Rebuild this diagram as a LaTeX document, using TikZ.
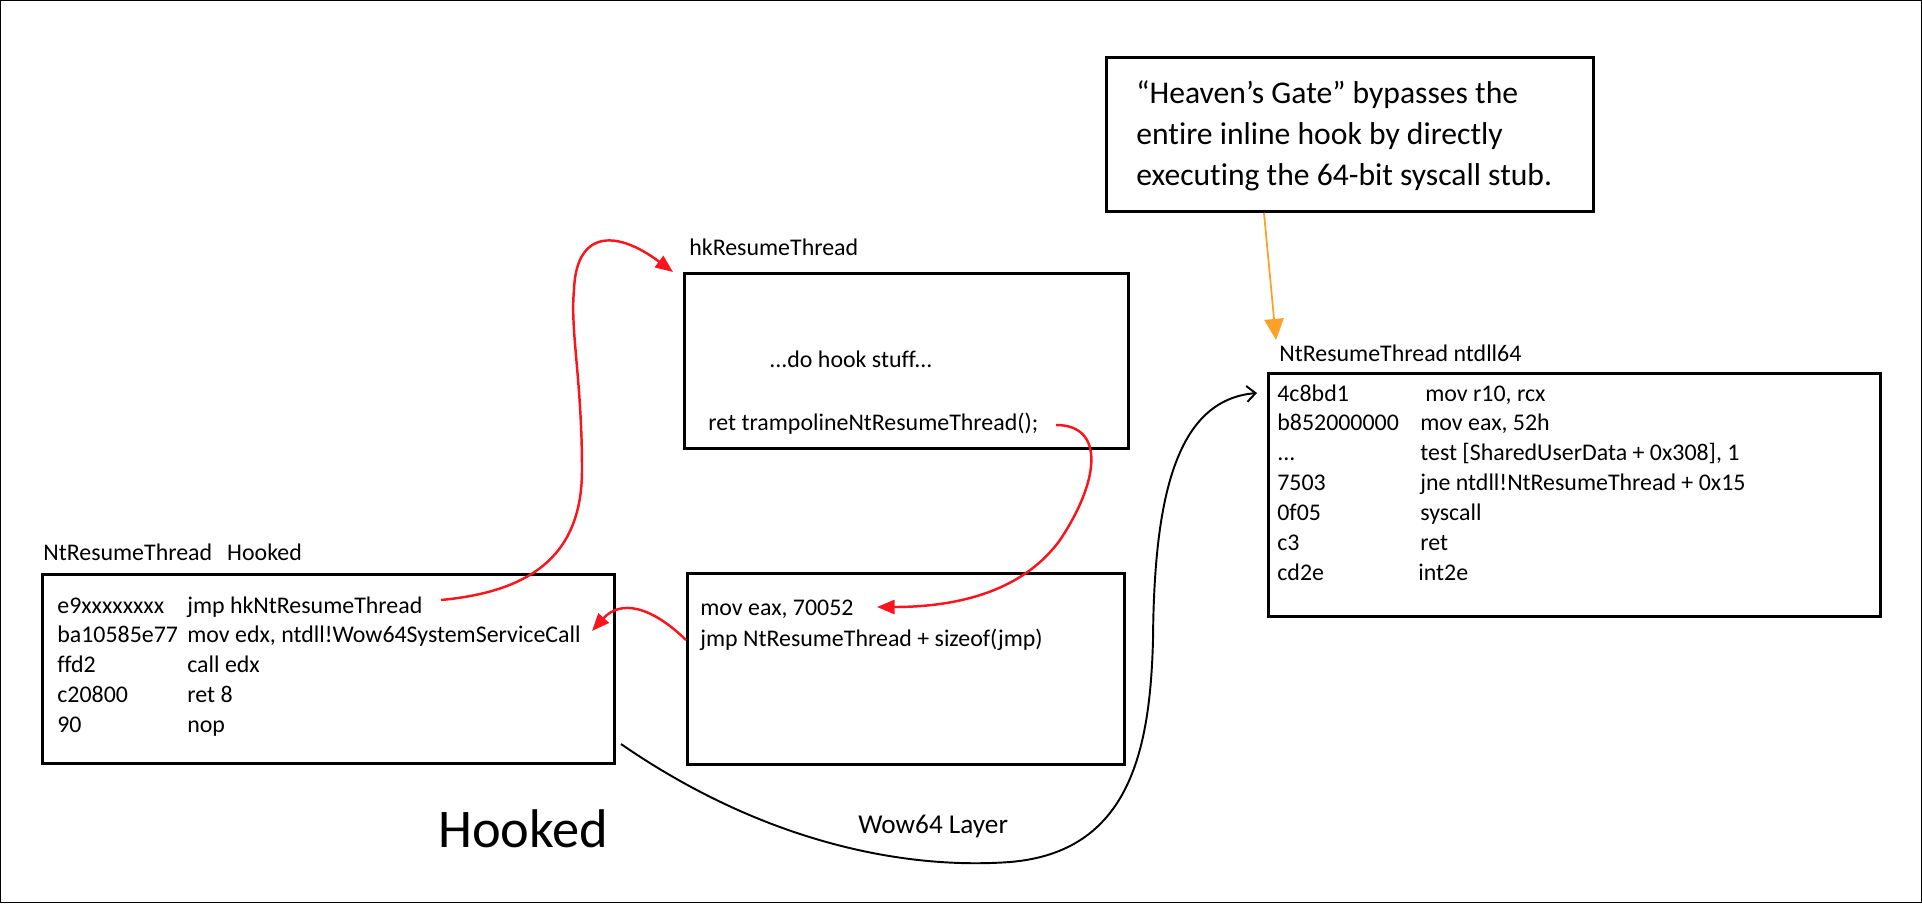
\documentclass[tikz,border=0pt]{standalone}
\usepackage{fontspec}
\setmainfont{Carlito}[Ligatures=NoCommon]
\usetikzlibrary{arrows.meta}
\definecolor{hookred}{RGB}{250,20,30}
\definecolor{gateorange}{RGB}{255,160,40}
\newcommand{\codesize}{\fontsize{13.6}{17}\selectfont}
\newcommand{\gatesize}{\fontsize{18}{23.6}\selectfont}
\newcommand{\bigsize}{\fontsize{31}{36}\selectfont}
\newcommand{\wowsize}{\fontsize{15.5}{18}\selectfont}

\begin{document}
\begin{tikzpicture}[x=0.02cm, y=-0.02cm,
    box/.style={draw, line width=1.6pt, anchor=north west, inner sep=0},
    txt/.style={anchor=base west, inner sep=0, font=\codesize},
    redarrow/.style={draw=hookred, line width=1.4pt, -{Triangle[length=10pt,width=8pt]}},
    wow/.style={line width=1.1pt, -{Straight Barb[length=5pt,width=9pt]}},
    gate/.style={draw=gateorange, line width=1pt, -{Triangle[length=12pt,width=11pt]}}]
  \useasboundingbox (0,0) rectangle (1922,903);
  \draw[line width=0.8pt] (0.5,0.5) rectangle (1921.5,902.5);

  % boxes
  \node[box, minimum width=11.44cm, minimum height=3.78cm] (hooked) at (41,573) {};
  \node[box, minimum width=8.88cm, minimum height=3.5cm] (hkbox) at (683,272) {};
  \node[box, minimum width=8.74cm, minimum height=3.82cm] (midbox) at (686,572) {};
  \node[box, minimum width=12.24cm, minimum height=4.86cm] (ntbox) at (1267,372) {};
  \node[box, minimum width=9.74cm, minimum height=3.08cm] (heaven) at (1105,56) {};

  % titles
  \node[txt] (hookedtitle) at (43,560) {NtResumeThread\hspace{0.3cm}Hooked};
  \node[txt] (hktitle) at (689,255) {hkResumeThread};
  \node[txt] (nttitle) at (1279,361) {NtResumeThread ntdll64};

  % hooked stub
  \node[txt] (hookedcode) at (57,613) {\begin{tabular}[t]{@{}p{2.6cm}@{}l@{}}
    e9xxxxxxxx & jmp hkNtResumeThread\\
    ba10585e77 & mov edx, ntdll!Wow64SystemServiceCall\\
    ffd2 & call edx\\
    c20800 & ret 8\\
    90 & nop
  \end{tabular}};

  % hook body
  \node[txt] (hookstuff) at (769,367) {...do hook stuff...};
  \node[txt] (hookret) at (708,430) {ret trampolineNtResumeThread();};

  % trampoline
  \node[txt] (tramp) at (700,615) {\begin{tabular}[t]{@{}l@{}}
    mov eax, 70052\\[1pt]
    jmp NtResumeThread + sizeof(jmp)
  \end{tabular}};

  % ntdll64 stub
  \node[txt] (ntcode) at (1277,401) {\begin{tabular}[t]{@{}p{2.86cm}@{}l@{}}
    4c8bd1 & \hspace{0.1cm}mov r10, rcx\\
    b852000000 & mov eax, 52h\\
    ... & test [SharedUserData + 0x308], 1\\
    7503 & jne ntdll!NtResumeThread + 0x15\\
    0f05 & syscall\\
    c3 & ret\\
    cd2e & \hspace{-0.04cm}int2e
  \end{tabular}};

  % note
  \node[anchor=base west, inner sep=0, font=\gatesize] (gatetext) at (1136,103) {\begin{tabular}[t]{@{}l@{}}
    “Heaven’s Gate” bypasses the\\
    entire inline hook by directly\\
    executing the 64-bit syscall stub.
  \end{tabular}};

  \node[anchor=base west, inner sep=0, font=\bigsize] (bighooked) at (438,847) {Hooked};
  \node[anchor=base west, inner sep=0, font=\wowsize] (wowlabel) at (858,833) {Wow64 Layer};

  % connector ends
  \coordinate (jmpend) at (441,600);
  \coordinate (retend) at (1056,425);
  \coordinate (movtip) at (877,607);
  \coordinate (callend) at (592,631);
  \coordinate (wowstart) at (621,744);
  \coordinate (gatetip) at (1276,340);

  % red hook flow
  \draw[redarrow] (jmpend) .. controls (525,592) and (582,560) .. (582,470)
    .. controls (582,380) and (570,330) .. (574,290)
    .. controls (576,232) and (614,228) .. ([xshift=-0.2cm]hkbox.north west);
  \draw[redarrow] (retend) .. controls (1105,425) and (1100,480) .. (1060,540)
    .. controls (1020,595) and (950,607) .. (movtip);
  \draw[redarrow] ([yshift=-1.36cm]midbox.north west) .. controls (650,605) and (620,600) .. (callend);

  % wow64 layer
  \draw[wow] (wowstart) .. controls (760,840) and (900,870) .. (1010,862)
    .. controls (1130,852) and (1150,750) .. (1153,640)
    .. controls (1154,500) and (1175,400) .. ([shift={(-10,21)}]ntbox.north west);

  % heaven's gate
  \draw[gate] ([xshift=3.18cm]heaven.south west) -- (gatetip);
\end{tikzpicture}
\end{document}
